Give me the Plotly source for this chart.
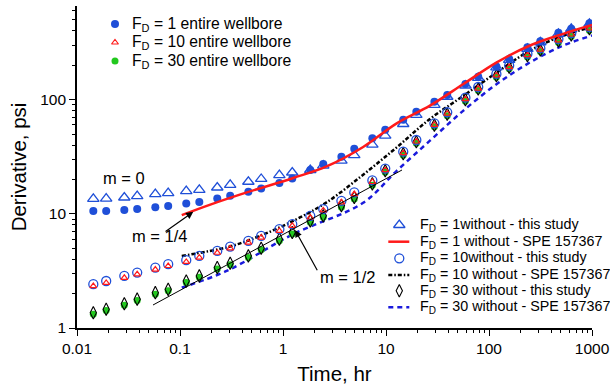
import math
import plotly.graph_objects as go

# ---- data -------------------------------------------------------------
# elapsed time of each computed derivative point (hr)
time_hr = [0.0144, 0.0192, 0.0288, 0.0384, 0.0576, 0.0768, 0.115, 0.154, 0.230, 0.307,
           0.461, 0.614, 0.922, 1.23, 1.84, 2.46, 3.69, 4.92, 7.37, 9.83, 14.7, 19.7,
           29.5, 39.3, 59.0, 78.6, 118, 157, 236, 315, 472, 629, 944]

# pressure derivative (psi), fracture conductivity along the entire wellbore
fd1_entire = [10.6, 10.6, 10.8, 11.0, 11.4, 11.7, 12.3, 12.7, 13.6, 14.4, 15.6, 16.7,
              18.6, 20.4, 24.2, 27.3, 31.6, 37.2, 45.8, 54.6, 66.8, 78.5, 96, 110,
              137, 159, 195, 227, 288, 325, 385, 417, 467]
fd10_entire = [2.33, 2.48, 2.75, 2.95, 3.25, 3.49, 3.79, 4.13, 4.56, 4.99, 5.60, 6.19,
               7.09, 7.85, 9.28, 10.7, 12.6, 14.9, 19.0, 24.1, 34.0, 43.0, 60.2, 75.3,
               101, 125, 163, 193, 245, 274, 330, 372, 421]
fd30_entire = [1.32, 1.42, 1.58, 1.74, 1.98, 2.12, 2.50, 2.78, 3.28, 3.58, 4.15, 4.85,
               5.82, 6.65, 8.42, 9.31, 11.4, 13.5, 17.8, 23.1, 32.6, 41.5, 57.9, 72.3,
               97, 120, 157, 186, 236, 264, 317, 358, 404]

# pressure derivative (psi), without wellbore contact - this study
fd1_without = [13.5, 13.6, 13.9, 14.3, 14.9, 15.2, 15.8, 16.2, 17.0, 17.9, 19.1, 20.2,
               21.8, 23.0, 24.2, 26.4, 29.2, 32.7, 40.3, 48.3, 61.2, 73.4, 89.9, 106,
               133, 155, 192, 223, 278, 318, 377, 417, 461]
fd10_without = [2.42, 2.58, 2.86, 3.06, 3.38, 3.62, 3.93, 4.28, 4.73, 5.17, 5.80, 6.41,
                7.34, 8.12, 9.60, 11.0, 13.0, 15.4, 19.6, 24.9, 35.0, 44.3, 62.0, 77.5,
                104, 129, 168, 199, 252, 282, 339, 382, 432]
fd30_without = [1.36, 1.46, 1.63, 1.79, 2.04, 2.18, 2.58, 2.86, 3.38, 3.69, 4.28, 5.00,
                6.00, 6.86, 8.68, 9.60, 11.8, 13.9, 18.3, 23.8, 33.6, 42.8, 59.7, 74.5,
                100, 124, 162, 192, 243, 272, 327, 369, 417]

# SPE 157367 solutions
spe_fd1_t = [0.104, 0.2, 0.445, 1.26, 2.65, 6.0, 12.7, 26.7, 56.4, 119, 250, 526, 1000]
spe_fd1_y = [9.74, 12.1, 15.4, 20.6, 26.0, 38.5, 62.0, 88.5, 137, 212, 298, 377, 450]
spe_fd10_t = [0.104, 0.3, 0.598, 1.26, 2.65, 6.0, 12.7, 26.7, 56.4, 119, 250, 526, 1000]
spe_fd10_y = [4.28, 5.15, 6.41, 8.68, 12.6, 22.0, 38.2, 67.7, 108, 173, 269, 364, 431]
spe_fd30_t = [0.104, 0.284, 1.26, 6.0, 12.7, 26.7, 56.4, 119, 250, 526, 1000]
spe_fd30_y = [2.26, 3.16, 6.64, 12.5, 23.8, 43.7, 80.1, 137, 212, 298, 364]

# half-slope reference line
half_slope_t = [0.0547, 14.3]
half_slope_y = [1.59, 24.2]

x_ticks = [0.01, 0.1, 1, 10, 100, 1000]
x_tick_text = ["0.01", "0.1", "1", "10", "100", "1000"]
y_ticks = [1, 10, 100]
y_tick_text = ["1", "10", "100"]

# ---- styling ----------------------------------------------------------
FONT = "Liberation Sans, Arial, sans-serif"
BLUE_MK = "#1f4fd8"
GREEN_MK = "#22c81e"
RED = "#ff1a1a"
LINE_BLUE = "#1a1adc"

styles = {
    "fd1_entire": dict(mode="markers", marker=dict(symbol="circle", size=8, color=BLUE_MK)),
    "fd10_entire": dict(mode="markers", marker=dict(symbol="triangle-up-open", size=6,
                                                   color=RED, line=dict(width=1.2))),
    "fd30_entire": dict(mode="markers", marker=dict(symbol="circle", size=7, color=GREEN_MK)),
    "fd1_without": dict(mode="markers", marker=dict(symbol="triangle-up-open", size=10,
                                                   color=BLUE_MK, line=dict(width=1.3))),
    "fd1_spe": dict(mode="lines", line=dict(color=RED, width=2.5, shape="spline")),
    "fd10_without": dict(mode="markers", marker=dict(symbol="circle-open", size=9,
                                                    color=BLUE_MK, line=dict(width=1.3))),
    "fd10_spe": dict(mode="lines", line=dict(color="black", width=2.5, dash="4px,2px,1.5px,2px",
                                             shape="spline")),
    "fd30_without": dict(mode="markers", marker=dict(symbol="diamond-tall-open", size=9,
                                                    color="black", line=dict(width=1.1))),
    "fd30_spe": dict(mode="lines", line=dict(color=LINE_BLUE, width=2.5, dash="5px,4px",
                                             shape="spline")),
}

fig = go.Figure()

def add(x, y, key):
    fig.add_trace(go.Scatter(x=x, y=y, showlegend=False, hoverinfo="skip", **styles[key]))

add(spe_fd30_t, spe_fd30_y, "fd30_spe")
add(spe_fd10_t, spe_fd10_y, "fd10_spe")
add(time_hr, fd30_entire, "fd30_entire")
add(time_hr, fd30_without, "fd30_without")
add(time_hr, fd10_without, "fd10_without")
add(time_hr, fd10_entire, "fd10_entire")
add(time_hr, fd1_without, "fd1_without")
add(time_hr, fd1_entire, "fd1_entire")
add(spe_fd1_t, spe_fd1_y, "fd1_spe")

fig.add_trace(go.Scatter(x=half_slope_t, y=half_slope_y, mode="lines", showlegend=False,
                         hoverinfo="skip", line=dict(color="black", width=1)))

# ---- legends (drawn on a pixel overlay of the plot area) -------------
L, R, T, B = 77, 592, 6, 328
legend_left = [("fd1_entire", "F<sub>D</sub> = 1 entire wellbore", 24),
               ("fd10_entire", "F<sub>D</sub> = 10 entire wellbore", 42.5),
               ("fd30_entire", "F<sub>D</sub> = 30 entire wellbore", 61)]
legend_right = [("fd1_without", "F<sub>D</sub> = 1without - this study", 225),
                ("fd1_spe", "F<sub>D</sub> = 1 without - SPE 157367", 241.7),
                ("fd10_without", "F<sub>D</sub> = 10without - this study", 258.3),
                ("fd10_spe", "F<sub>D</sub> = 10 without - SPE 157367", 275),
                ("fd30_without", "F<sub>D</sub> = 30 without - this study", 290.7),
                ("fd30_spe", "F<sub>D</sub> = 30 without - SPE 157367", 307.3)]

annotations = []

def legend_block(items, key_x, text_x, size):
    for key, label, row in items:
        st = dict(styles[key])
        if st["mode"] == "lines":
            ln = dict(st["line"]); ln.pop("shape", None)
            fig.add_trace(go.Scatter(x=[key_x - 11, key_x + 10], y=[row, row], mode="lines",
                                     line=ln, xaxis="x2", yaxis="y2", showlegend=False,
                                     hoverinfo="skip"))
        else:
            fig.add_trace(go.Scatter(x=[key_x], y=[row], xaxis="x2", yaxis="y2",
                                     showlegend=False, hoverinfo="skip", **st))
        annotations.append(dict(x=text_x, y=row, xref="x2", yref="y2", text=label,
                                showarrow=False, xanchor="left", yanchor="middle",
                                font=dict(family=FONT, size=size, color="black")))

legend_block(legend_left, 115, 129.5, 15.7)
legend_block(legend_right, 399.3, 417.5, 14.3)

# ---- slope labels -----------------------------------------------------
lg = math.log10
label_font = dict(family=FONT, size=16.5, color="black")
annotations += [
    dict(x=lg(0.0286), y=lg(20.8), text="m = 0", showarrow=False, font=label_font),
    dict(x=lg(0.064), y=lg(6.33), text="m = 1/4", showarrow=False, font=label_font),
    dict(x=lg(4.27), y=lg(2.80), text="m = 1/2", showarrow=False, font=label_font),
    dict(x=lg(0.1345), y=lg(10.4), ax=lg(0.070), ay=lg(6.85), axref="x", ayref="y",
         text="", showarrow=True, arrowhead=2, arrowsize=1.2, arrowwidth=1.2,
         arrowcolor="black"),
    dict(x=lg(1.31), y=lg(7.21), ax=lg(2.19), ay=lg(3.11), axref="x", ayref="y",
         text="", showarrow=True, arrowhead=2, arrowsize=1.2, arrowwidth=1.2,
         arrowcolor="black"),
]

axis_common = dict(showline=True, linecolor="black", linewidth=1.6, ticks="outside",
                   ticklen=6, tickwidth=1.3, tickcolor="black", showgrid=False,
                   zeroline=False, mirror=False, automargin=False,
                   tickfont=dict(family=FONT, size=15.5, color="black"),
                   minor=dict(ticks="outside", ticklen=3.5, tickwidth=1, tickcolor="black",
                              dtick="D1", showgrid=False))

fig.update_layout(
    width=610, height=390,
    margin=dict(l=L, r=610 - R, t=T, b=390 - B),
    paper_bgcolor="white", plot_bgcolor="white",
    showlegend=False,
    font=dict(family=FONT, color="black"),
    xaxis=dict(type="log", range=[-2, 3], tickvals=x_ticks, ticktext=x_tick_text,
               title=dict(text="Time, hr", font=dict(family=FONT, size=20.5), standoff=10),
               **axis_common),
    yaxis=dict(type="log", range=[0, 2.82], tickvals=y_ticks, ticktext=y_tick_text,
               title=dict(text="Derivative, psi", font=dict(family=FONT, size=20.5),
                          standoff=8),
               **axis_common),
    xaxis2=dict(overlaying="x", range=[L, R], visible=False, fixedrange=True,
                automargin=False),
    yaxis2=dict(overlaying="y", range=[B, T], visible=False, fixedrange=True,
                automargin=False),
    annotations=annotations,
)

fig.write_html("out.html")
